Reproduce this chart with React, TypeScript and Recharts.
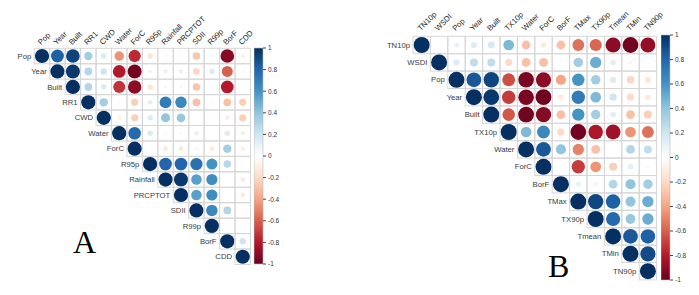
import { ScatterChart, Scatter, XAxis, YAxis, BarChart, Bar } from 'recharts';

const varsA = ['Pop', 'Year', 'Built', 'RR1', 'CWD', 'Water', 'ForC', 'R95p', 'Rainfall', 'PRCPTOT', 'SDII', 'R99p', 'BorF', 'CDD'];
// upper triangle, each row starts at the diagonal
const corrA = [
  [1, 0.82, 0.93, 0.35, 0.15, -0.45, -0.75, -0.15, 0.05, 0.05, -0.28, 0.06, -0.92, -0.08],
  [1, 0.97, 0.3, 0.2, -0.8, -0.97, -0.08, 0.1, 0.1, -0.22, 0.15, -0.6, 0.05],
  [1, 0.3, 0.15, -0.72, -0.9, -0.15, 0.05, 0.05, -0.28, 0.04, -0.8, 0],
  [1, 0.35, -0.03, -0.25, 0.12, 0.7, 0.65, -0.3, 0.04, -0.3, -0.25],
  [1, -0.08, -0.25, 0.15, 0.4, 0.38, 0.01, 0.03, -0.1, -0.25],
  [1, 0.78, 0.15, 0.05, 0.05, 0.1, 0, 0.15, -0.1],
  [1, 0.03, -0.12, -0.12, 0.06, -0.12, 0.35, -0.1],
  [1, 0.8, 0.8, 0.75, 0.6, 0.28, -0.02],
  [1, 0.97, 0.55, 0.62, 0.01, -0.12],
  [1, 0.55, 0.62, 0.01, -0.12],
  [1, 0.65, 0.3, 0.03],
  [1, 0, 0],
  [1, 0.2],
  [1],
];

const varsB = ['TN10p', 'WSDI', 'Pop', 'Year', 'Built', 'TX10p', 'Water', 'ForC', 'BorF', 'TMax', 'TX90p', 'Tmean', 'TMin', 'TN90p'];
const corrB = [
  [1, 0.02, 0.1, 0.15, 0.18, 0.45, -0.3, -0.12, -0.3, -0.55, -0.58, -0.9, -0.97, -0.88],
  [1, 0.15, 0.25, 0.25, -0.2, -0.3, -0.3, 0, 0.35, 0.5, 0.12, -0.05, 0.02],
  [1, 0.85, 0.92, -0.65, -0.95, -0.9, -0.4, 0.6, 0.35, 0.15, -0.22, -0.15],
  [1, 0.97, -0.7, -0.95, -0.98, -0.12, 0.7, 0.45, 0.2, -0.2, -0.12],
  [1, -0.62, -0.97, -0.92, -0.3, 0.6, 0.35, 0.12, -0.3, -0.25],
  [1, 0.45, 0.65, -0.2, -0.97, -0.82, -0.85, -0.45, -0.55],
  [1, 0.85, 0.4, -0.5, -0.3, -0.02, 0.3, 0.25],
  [1, 0.02, -0.7, -0.45, -0.25, 0.12, 0.05],
  [1, 0.1, 0.08, 0.3, 0.4, 0.35],
  [1, 0.92, 0.82, 0.4, 0.5],
  [1, 0.78, 0.38, 0.5],
  [1, 0.85, 0.82],
  [1, 0.9],
  [1],
];

const barTicks = [1, 0.8, 0.6, 0.4, 0.2, 0, -0.2, -0.4, -0.6, -0.8, -1];
const palette = ['#67001F', '#B2182B', '#D6604D', '#F4A582', '#FDDBC7', '#FFFFFF', '#D1E5F0', '#92C5DE', '#4393C3', '#2166AC', '#053061'];

const FONT = '"Liberation Sans", Arial, sans-serif';

function hex(c: string) {
  return [1, 3, 5].map((i) => parseInt(c.slice(i, i + 2), 16));
}

function colorFor(r: number) {
  const t = ((r + 1) / 2) * (palette.length - 1);
  const i = Math.min(Math.floor(t), palette.length - 2);
  const f = t - i;
  const a = hex(palette[i]);
  const b = hex(palette[i + 1]);
  const c = a.map((v, k) => Math.round(v + (b[k] - v) * f));
  return `rgb(${c[0]},${c[1]},${c[2]})`;
}

function toPoints(vars: string[], corr: number[][]) {
  const pts: { x: number; y: number; r: number; diag: boolean; label: string }[] = [];
  corr.forEach((row, i) => {
    row.forEach((r, k) => {
      pts.push({ x: i + k + 0.5, y: i + 0.5, r, diag: k === 0, label: vars[i] });
    });
  });
  return pts;
}

const cellShape = (cell: number, fs: number) => (props: any) => {
  const { cx, cy, payload } = props;
  const h = cell / 2;
  return (
    <g>
      <rect x={cx - h} y={cy - h} width={cell} height={cell} fill="none" stroke="#d6d6d6" strokeWidth={1} />
      {payload.r !== 0 && (
        <circle cx={cx} cy={cy} r={0.46 * cell * Math.sqrt(Math.abs(payload.r))} fill={colorFor(payload.r)} />
      )}
      {payload.diag && (
        <text x={cx - h - 3} y={cy} dy="0.35em" textAnchor="end" fontSize={fs} fontFamily={FONT} fill="#3a3a3a">
          {payload.label}
        </text>
      )}
    </g>
  );
};

function CorrPanel({ vars, corr, left, top, width, height, gridLeft, gridTop, cell, gap, fs }: any) {
  const n = vars.length;
  const size = cell * n;
  const ticks = vars.map((_: string, i: number) => i + 0.5);
  const ColTick = (p: any) => {
    const name = vars[Math.floor(p.payload.value)];
    return (
      <text
        x={p.x - 1}
        y={p.y}
        transform={`rotate(-45, ${p.x - 1}, ${p.y})`}
        fontSize={fs}
        fontFamily={FONT}
        fill="#222"
        textAnchor="start"
      >
        {name}
      </text>
    );
  };
  return (
    <div style={{ position: 'absolute', left, top }}>
      <ScatterChart
        width={width}
        height={height}
        margin={{ top: 0, left: gridLeft - left, right: width - (gridLeft - left) - size, bottom: height - (gridTop - top) - size }}
      >
        <XAxis
          type="number"
          dataKey="x"
          orientation="top"
          domain={[0, n]}
          ticks={ticks}
          height={gridTop - top}
          axisLine={false}
          tickLine={false}
          tickSize={0}
          tickMargin={gap}
          interval={0}
          tick={ColTick}
        />
        <YAxis type="number" dataKey="y" domain={[0, n]} reversed hide width={0} />
        <Scatter data={toPoints(vars, corr)} shape={cellShape(cell, fs)} isAnimationActive={false} />
      </ScatterChart>
    </div>
  );
}

function ColorBar({ id, left, top, height }: any) {
  const pad = 6;
  return (
    <div style={{ position: 'absolute', left, top: top - pad }}>
      <BarChart
        width={40}
        height={height + pad * 2}
        data={[{ k: 'c', v: [-1, 1] }]}
        margin={{ top: pad, right: 0, bottom: pad, left: 0 }}
        barCategoryGap={0}
      >
        <defs>
          <linearGradient id={id} x1="0" y1="0" x2="0" y2="1">
            {palette.slice().reverse().map((c, i) => (
              <stop key={i} offset={`${i * 10}%`} stopColor={c} />
            ))}
          </linearGradient>
        </defs>
        <XAxis dataKey="k" hide />
        <YAxis
          orientation="right"
          type="number"
          domain={[-1, 1]}
          ticks={barTicks}
          width={31}
          axisLine={false}
          tickSize={3}
          tickMargin={2}
          tickLine={{ stroke: '#444' }}
          tick={{ fontSize: 6.5, fontFamily: FONT, fill: '#333', textAnchor: 'start' }}
          interval={0}
        />
        <Bar dataKey="v" fill={`url(#${id})`} stroke="#bbb" strokeWidth={0.6} isAnimationActive={false} />
      </BarChart>
    </div>
  );
}

export default function App() {
  return (
    <div style={{ position: 'absolute', left: 0, top: 0, width: 699, height: 295, background: '#fff', overflow: 'hidden' }}>
      <CorrPanel vars={varsA} corr={corrA} left={0} top={0} width={268} height={270} gridLeft={34.3} gridTop={48.3} cell={15.44} gap={3} fs={7.7} />
      <ColorBar id="gradA" left={254} top={48} height={216} />
      <CorrPanel vars={varsB} corr={corrB} left={360} top={0} width={330} height={285} gridLeft={413} gridTop={36.3} cell={17.4} gap={5} fs={7.7} />
      <ColorBar id="gradB" left={661} top={35} height={245} />
      <div style={{ position: 'absolute', left: 73, top: 226, fontFamily: '"Liberation Serif", serif', fontSize: 32, lineHeight: '32px' }}>A</div>
      <div style={{ position: 'absolute', left: 548, top: 250, fontFamily: '"Liberation Serif", serif', fontSize: 32, lineHeight: '32px' }}>B</div>
    </div>
  );
}
